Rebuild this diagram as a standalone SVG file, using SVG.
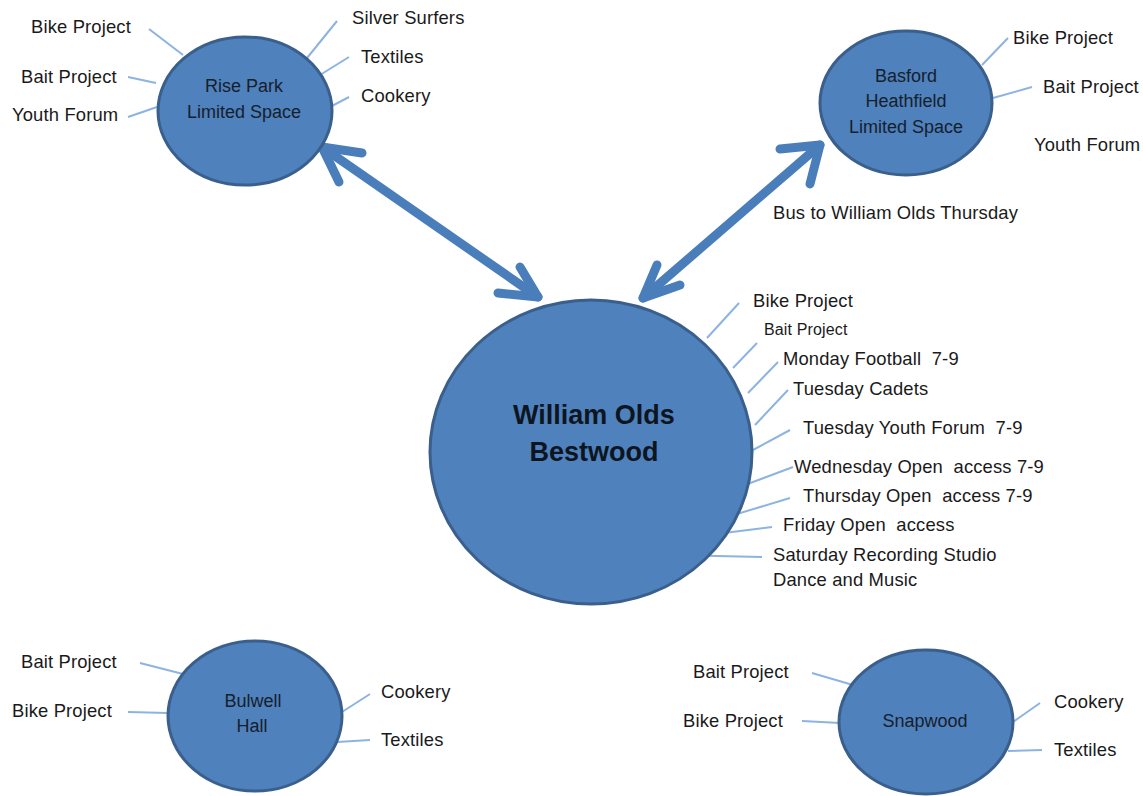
<svg xmlns="http://www.w3.org/2000/svg" width="1143" height="796" viewBox="0 0 1143 796">
<style>
.node{fill:#4F81BD;stroke:#3A5F8C;stroke-width:3}
.nt{font-family:"Liberation Sans",Arial,sans-serif;font-size:18px;fill:#16202c;text-anchor:middle}
.big{font-family:"Liberation Sans",Arial,sans-serif;font-size:27px;font-weight:bold;fill:#0d1620;text-anchor:middle}
.lb{font-family:"Liberation Sans",Arial,sans-serif;font-size:18.4px;letter-spacing:0.15px;fill:#1a1a1a}
.ln{stroke:#8DB3E2;stroke-width:2;fill:none}
.ar{stroke:#4A7EBB;stroke-width:9;fill:none;stroke-linecap:round;stroke-linejoin:round}
</style>
<rect width="1143" height="796" fill="#ffffff"/>
<g id="connectors">
<path class="ar" d="M322,147 L538,297"/>
<path class="ar" d="M362,153 L322,147 L339,182"/>
<path class="ar" d="M498,293 L538,297 L520,267"/>
<path class="ar" d="M820,145 L643,298"/>
<path class="ar" d="M780,149 L820,145 L810,184"/>
<path class="ar" d="M657,265 L643,298 L680,285"/>
<g id="spokes">
<line class="ln" x1="149" y1="29" x2="183" y2="55"/>
<line class="ln" x1="128" y1="77" x2="156" y2="83"/>
<line class="ln" x1="128" y1="117" x2="157" y2="107"/>
<line class="ln" x1="337" y1="21" x2="307" y2="58"/>
<line class="ln" x1="349" y1="57" x2="320" y2="75"/>
<line class="ln" x1="349" y1="97" x2="330" y2="107"/>
<line class="ln" x1="1008" y1="38" x2="982" y2="65"/>
<line class="ln" x1="1032" y1="87" x2="993" y2="98"/>
<line class="ln" x1="739" y1="303" x2="707" y2="338"/>
<line class="ln" x1="757" y1="343" x2="733" y2="368"/>
<line class="ln" x1="778" y1="362" x2="748" y2="393"/>
<line class="ln" x1="788" y1="390" x2="755" y2="425"/>
<line class="ln" x1="790" y1="430" x2="753" y2="450"/>
<line class="ln" x1="793" y1="467" x2="745" y2="485"/>
<line class="ln" x1="790" y1="498" x2="727" y2="517"/>
<line class="ln" x1="772" y1="527" x2="708" y2="535"/>
<line class="ln" x1="762" y1="557" x2="672" y2="555"/>
<line class="ln" x1="140" y1="663" x2="183" y2="674"/>
<line class="ln" x1="128" y1="712" x2="168" y2="713"/>
<line class="ln" x1="370" y1="694" x2="342" y2="712"/>
<line class="ln" x1="370" y1="740" x2="337" y2="742"/>
<line class="ln" x1="812" y1="673" x2="853" y2="685"/>
<line class="ln" x1="802" y1="721" x2="840" y2="723"/>
<line class="ln" x1="1040" y1="703" x2="1013" y2="722"/>
<line class="ln" x1="1042" y1="750" x2="1008" y2="751"/>
</g>
</g>
<g id="rise-park">
<ellipse class="node" cx="245" cy="111" rx="87" ry="74"/>
<text class="nt" x="244" y="92">Rise Park</text>
<text class="nt" x="244" y="118">Limited Space</text>
</g>
<g id="basford">
<ellipse class="node" cx="906" cy="103" rx="86" ry="72"/>
<text class="nt" x="906" y="82">Basford</text>
<text class="nt" x="906" y="107">Heathfield</text>
<text class="nt" x="906" y="133">Limited Space</text>
</g>
<g id="william-olds">
<ellipse class="node" cx="591" cy="452" rx="161" ry="152"/>
<text class="big" x="594" y="424">William Olds</text>
<text class="big" x="594" y="461">Bestwood</text>
</g>
<g id="bulwell">
<ellipse class="node" cx="255" cy="716" rx="87" ry="75"/>
<text class="nt" x="253" y="707">Bulwell</text>
<text class="nt" x="252" y="732">Hall</text>
</g>
<g id="snapwood">
<ellipse class="node" cx="926" cy="722" rx="87" ry="72"/>
<text class="nt" x="925" y="727">Snapwood</text>
</g>
<g id="labels">
<text class="lb" x="31" y="33">Bike Project</text>
<text class="lb" x="21" y="83">Bait Project</text>
<text class="lb" x="12" y="121">Youth Forum</text>
<text class="lb" x="352" y="24">Silver Surfers</text>
<text class="lb" x="361" y="63">Textiles</text>
<text class="lb" x="361" y="102">Cookery</text>
<text class="lb" x="1013" y="44">Bike Project</text>
<text class="lb" x="1043" y="93">Bait Project</text>
<text class="lb" x="1034" y="151">Youth Forum</text>
<text class="lb" x="773" y="219">Bus to William Olds Thursday</text>
<text class="lb" x="753" y="307">Bike Project</text>
<text class="lb" x="764" y="335" style="font-size:16px">Bait Project</text>
<text class="lb" x="783" y="365" xml:space="preserve">Monday Football  7-9</text>
<text class="lb" x="793" y="395">Tuesday Cadets</text>
<text class="lb" x="803" y="434" xml:space="preserve">Tuesday Youth Forum  7-9</text>
<text class="lb" x="794" y="473" xml:space="preserve">Wednesday Open  access 7-9</text>
<text class="lb" x="803" y="502" xml:space="preserve">Thursday Open  access 7-9</text>
<text class="lb" x="783" y="531" xml:space="preserve">Friday Open  access</text>
<text class="lb" x="773" y="561">Saturday Recording Studio</text>
<text class="lb" x="773" y="586">Dance and Music</text>
<text class="lb" x="21" y="668">Bait Project</text>
<text class="lb" x="12" y="717">Bike Project</text>
<text class="lb" x="381" y="698">Cookery</text>
<text class="lb" x="381" y="746">Textiles</text>
<text class="lb" x="693" y="678">Bait Project</text>
<text class="lb" x="683" y="727">Bike Project</text>
<text class="lb" x="1054" y="708">Cookery</text>
<text class="lb" x="1054" y="756">Textiles</text>
</g>
</svg>
